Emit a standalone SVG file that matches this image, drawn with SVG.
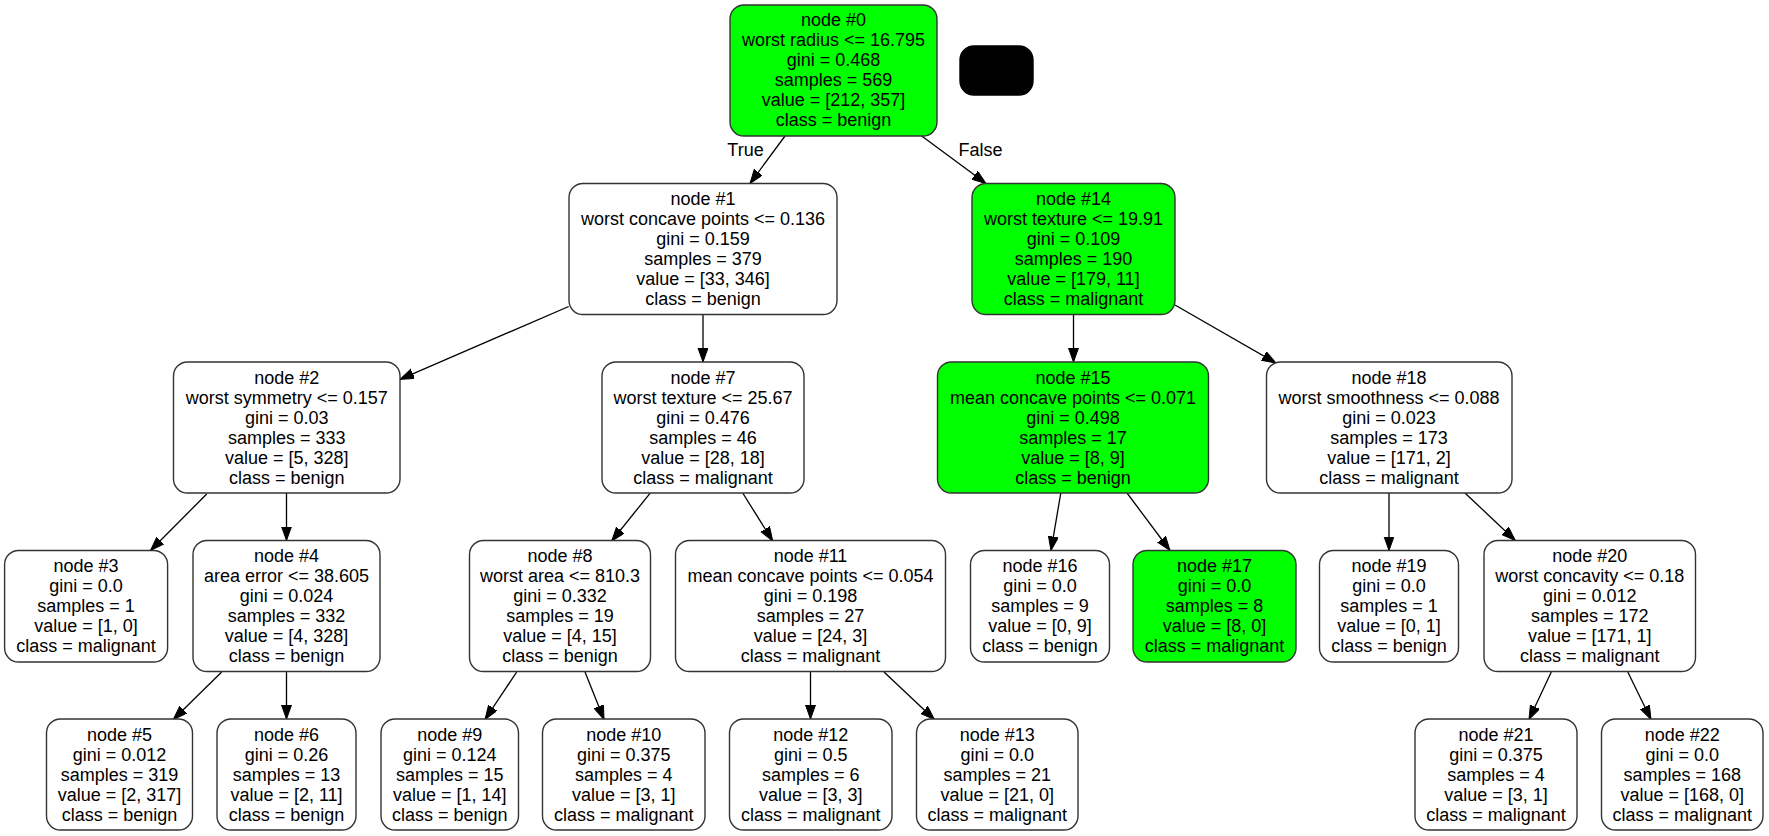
<svg xmlns="http://www.w3.org/2000/svg" width="1769" height="836" viewBox="0 0 1769 836">
  <style>
    rect.box { fill: #ffffff; stroke: #333333; stroke-width: 1.4; }
    rect.hl { fill: #00ff00; }
    rect.blk { fill: #000000; stroke: #000000; stroke-width: 1.4; }
    text { font-family: "Liberation Sans", Arial, sans-serif; font-size: 18px; fill: #000000; text-anchor: middle; }
    #edges path { fill: none; stroke: #000000; stroke-width: 1.3; marker-end: url(#arrow); }
  </style>
  <defs>
    <marker id="arrow" markerUnits="userSpaceOnUse" markerWidth="16" markerHeight="12" refX="14" refY="5" orient="auto">
      <path d="M0,0 L14,5 L0,10 Z" fill="#000000" stroke="#000000" stroke-width="1"/>
    </marker>
  </defs>
  <rect x="0" y="0" width="1769" height="836" fill="#ffffff"/>

  <!-- connectors -->
  <g id="edges">
    <path d="M785,136 L750,183.5"/>
    <path d="M921.7,136 L986,183.5"/>
    <path d="M568.7,306.5 L400,379.3"/>
    <path d="M703,314.5 L703,362"/>
    <path d="M1073.5,314.5 L1073.5,362"/>
    <path d="M1175,305 L1276,363"/>
    <path d="M206.7,494 L150.5,550.5"/>
    <path d="M286.5,493 L286.5,540.5"/>
    <path d="M650,493.3 L611.7,541"/>
    <path d="M742.7,493 L772.7,541"/>
    <path d="M1060.8,493 L1051,550.5"/>
    <path d="M1127,493 L1170,550.5"/>
    <path d="M1389,493 L1389,550.5"/>
    <path d="M1465,493 L1515.3,540.5"/>
    <path d="M221.7,672 L173.3,719.5"/>
    <path d="M286.5,671.5 L286.5,719"/>
    <path d="M516.7,672 L485,719.5"/>
    <path d="M585,672 L604,719.5"/>
    <path d="M810.5,671.5 L810.5,719"/>
    <path d="M884,672 L934.4,719.5"/>
    <path d="M1551.3,672 L1529,719.5"/>
    <path d="M1627.8,672 L1651,719.5"/>
    <text x="745.5" y="156">True</text>
    <text x="980.5" y="156">False</text>
  </g>

  <!-- unlabelled black node -->
  <g id="legend">
    <rect class="blk" x="960" y="46" width="73" height="49" rx="14"/>
  </g>

  <g id="node0">
    <rect class="box hl" x="730" y="5" width="207" height="131" rx="14"/>
    <text x="833.5" y="26">node #0</text>
    <text x="833.5" y="46">worst radius &lt;= 16.795</text>
    <text x="833.5" y="66">gini = 0.468</text>
    <text x="833.5" y="86">samples = 569</text>
    <text x="833.5" y="106">value = [212, 357]</text>
    <text x="833.5" y="126">class = benign</text>
  </g>

  <g id="node1">
    <rect class="box" x="569" y="183.5" width="268" height="131" rx="14"/>
    <text x="703" y="205">node #1</text>
    <text x="703" y="225">worst concave points &lt;= 0.136</text>
    <text x="703" y="245">gini = 0.159</text>
    <text x="703" y="265">samples = 379</text>
    <text x="703" y="285">value = [33, 346]</text>
    <text x="703" y="305">class = benign</text>
  </g>

  <g id="node14">
    <rect class="box hl" x="972" y="183.5" width="203" height="131" rx="14"/>
    <text x="1073.5" y="205">node #14</text>
    <text x="1073.5" y="225">worst texture &lt;= 19.91</text>
    <text x="1073.5" y="245">gini = 0.109</text>
    <text x="1073.5" y="265">samples = 190</text>
    <text x="1073.5" y="285">value = [179, 11]</text>
    <text x="1073.5" y="305">class = malignant</text>
  </g>

  <g id="node2">
    <rect class="box" x="173.5" y="362" width="226.5" height="131" rx="14"/>
    <text x="286.7" y="383.5">node #2</text>
    <text x="286.7" y="403.5">worst symmetry &lt;= 0.157</text>
    <text x="286.7" y="423.5">gini = 0.03</text>
    <text x="286.7" y="443.5">samples = 333</text>
    <text x="286.7" y="463.5">value = [5, 328]</text>
    <text x="286.7" y="483.5">class = benign</text>
  </g>

  <g id="node7">
    <rect class="box" x="602" y="362" width="202" height="131" rx="14"/>
    <text x="703" y="383.5">node #7</text>
    <text x="703" y="403.5">worst texture &lt;= 25.67</text>
    <text x="703" y="423.5">gini = 0.476</text>
    <text x="703" y="443.5">samples = 46</text>
    <text x="703" y="463.5">value = [28, 18]</text>
    <text x="703" y="483.5">class = malignant</text>
  </g>

  <g id="node15">
    <rect class="box hl" x="937.5" y="362" width="271" height="131" rx="14"/>
    <text x="1073" y="383.5">node #15</text>
    <text x="1073" y="403.5">mean concave points &lt;= 0.071</text>
    <text x="1073" y="423.5">gini = 0.498</text>
    <text x="1073" y="443.5">samples = 17</text>
    <text x="1073" y="463.5">value = [8, 9]</text>
    <text x="1073" y="483.5">class = benign</text>
  </g>

  <g id="node18">
    <rect class="box" x="1266.5" y="362" width="245.5" height="131" rx="14"/>
    <text x="1389" y="383.5">node #18</text>
    <text x="1389" y="403.5">worst smoothness &lt;= 0.088</text>
    <text x="1389" y="423.5">gini = 0.023</text>
    <text x="1389" y="443.5">samples = 173</text>
    <text x="1389" y="463.5">value = [171, 2]</text>
    <text x="1389" y="483.5">class = malignant</text>
  </g>

  <g id="node3">
    <rect class="box" x="4.6" y="550.5" width="163" height="111.5" rx="14"/>
    <text x="86" y="572">node #3</text>
    <text x="86" y="592">gini = 0.0</text>
    <text x="86" y="612">samples = 1</text>
    <text x="86" y="632">value = [1, 0]</text>
    <text x="86" y="652">class = malignant</text>
  </g>

  <g id="node4">
    <rect class="box" x="193" y="540.5" width="187" height="131" rx="14"/>
    <text x="286.5" y="562">node #4</text>
    <text x="286.5" y="582">area error &lt;= 38.605</text>
    <text x="286.5" y="602">gini = 0.024</text>
    <text x="286.5" y="622">samples = 332</text>
    <text x="286.5" y="642">value = [4, 328]</text>
    <text x="286.5" y="662">class = benign</text>
  </g>

  <g id="node8">
    <rect class="box" x="469.5" y="540.5" width="181" height="131" rx="14"/>
    <text x="560" y="562">node #8</text>
    <text x="560" y="582">worst area &lt;= 810.3</text>
    <text x="560" y="602">gini = 0.332</text>
    <text x="560" y="622">samples = 19</text>
    <text x="560" y="642">value = [4, 15]</text>
    <text x="560" y="662">class = benign</text>
  </g>

  <g id="node11">
    <rect class="box" x="675.5" y="540.5" width="270" height="131" rx="14"/>
    <text x="810.5" y="562">node #11</text>
    <text x="810.5" y="582">mean concave points &lt;= 0.054</text>
    <text x="810.5" y="602">gini = 0.198</text>
    <text x="810.5" y="622">samples = 27</text>
    <text x="810.5" y="642">value = [24, 3]</text>
    <text x="810.5" y="662">class = malignant</text>
  </g>

  <g id="node16">
    <rect class="box" x="970.5" y="550.5" width="139" height="111.5" rx="14"/>
    <text x="1040" y="572">node #16</text>
    <text x="1040" y="592">gini = 0.0</text>
    <text x="1040" y="612">samples = 9</text>
    <text x="1040" y="632">value = [0, 9]</text>
    <text x="1040" y="652">class = benign</text>
  </g>

  <g id="node17">
    <rect class="box hl" x="1133" y="550.5" width="163" height="111.5" rx="14"/>
    <text x="1214.5" y="572">node #17</text>
    <text x="1214.5" y="592">gini = 0.0</text>
    <text x="1214.5" y="612">samples = 8</text>
    <text x="1214.5" y="632">value = [8, 0]</text>
    <text x="1214.5" y="652">class = malignant</text>
  </g>

  <g id="node19">
    <rect class="box" x="1319.5" y="550.5" width="139" height="111.5" rx="14"/>
    <text x="1389" y="572">node #19</text>
    <text x="1389" y="592">gini = 0.0</text>
    <text x="1389" y="612">samples = 1</text>
    <text x="1389" y="632">value = [0, 1]</text>
    <text x="1389" y="652">class = benign</text>
  </g>

  <g id="node20">
    <rect class="box" x="1484" y="540.5" width="211.5" height="131" rx="14"/>
    <text x="1589.7" y="562">node #20</text>
    <text x="1589.7" y="582">worst concavity &lt;= 0.18</text>
    <text x="1589.7" y="602">gini = 0.012</text>
    <text x="1589.7" y="622">samples = 172</text>
    <text x="1589.7" y="642">value = [171, 1]</text>
    <text x="1589.7" y="662">class = malignant</text>
  </g>

  <g id="node5">
    <rect class="box" x="46.5" y="719" width="146" height="111" rx="14"/>
    <text x="119.5" y="740.5">node #5</text>
    <text x="119.5" y="760.5">gini = 0.012</text>
    <text x="119.5" y="780.5">samples = 319</text>
    <text x="119.5" y="800.5">value = [2, 317]</text>
    <text x="119.5" y="820.5">class = benign</text>
  </g>

  <g id="node6">
    <rect class="box" x="217" y="719" width="139" height="111" rx="14"/>
    <text x="286.5" y="740.5">node #6</text>
    <text x="286.5" y="760.5">gini = 0.26</text>
    <text x="286.5" y="780.5">samples = 13</text>
    <text x="286.5" y="800.5">value = [2, 11]</text>
    <text x="286.5" y="820.5">class = benign</text>
  </g>

  <g id="node9">
    <rect class="box" x="381" y="719" width="137.5" height="111" rx="14"/>
    <text x="449.7" y="740.5">node #9</text>
    <text x="449.7" y="760.5">gini = 0.124</text>
    <text x="449.7" y="780.5">samples = 15</text>
    <text x="449.7" y="800.5">value = [1, 14]</text>
    <text x="449.7" y="820.5">class = benign</text>
  </g>

  <g id="node10">
    <rect class="box" x="542.5" y="719" width="162.5" height="111" rx="14"/>
    <text x="623.7" y="740.5">node #10</text>
    <text x="623.7" y="760.5">gini = 0.375</text>
    <text x="623.7" y="780.5">samples = 4</text>
    <text x="623.7" y="800.5">value = [3, 1]</text>
    <text x="623.7" y="820.5">class = malignant</text>
  </g>

  <g id="node12">
    <rect class="box" x="729.5" y="719" width="162.5" height="111" rx="14"/>
    <text x="810.7" y="740.5">node #12</text>
    <text x="810.7" y="760.5">gini = 0.5</text>
    <text x="810.7" y="780.5">samples = 6</text>
    <text x="810.7" y="800.5">value = [3, 3]</text>
    <text x="810.7" y="820.5">class = malignant</text>
  </g>

  <g id="node13">
    <rect class="box" x="916.5" y="719" width="161.5" height="111" rx="14"/>
    <text x="997.2" y="740.5">node #13</text>
    <text x="997.2" y="760.5">gini = 0.0</text>
    <text x="997.2" y="780.5">samples = 21</text>
    <text x="997.2" y="800.5">value = [21, 0]</text>
    <text x="997.2" y="820.5">class = malignant</text>
  </g>

  <g id="node21">
    <rect class="box" x="1415" y="719" width="162" height="111" rx="14"/>
    <text x="1496" y="740.5">node #21</text>
    <text x="1496" y="760.5">gini = 0.375</text>
    <text x="1496" y="780.5">samples = 4</text>
    <text x="1496" y="800.5">value = [3, 1]</text>
    <text x="1496" y="820.5">class = malignant</text>
  </g>

  <g id="node22">
    <rect class="box" x="1601.5" y="719" width="161.5" height="111" rx="14"/>
    <text x="1682.2" y="740.5">node #22</text>
    <text x="1682.2" y="760.5">gini = 0.0</text>
    <text x="1682.2" y="780.5">samples = 168</text>
    <text x="1682.2" y="800.5">value = [168, 0]</text>
    <text x="1682.2" y="820.5">class = malignant</text>
  </g>
</svg>
